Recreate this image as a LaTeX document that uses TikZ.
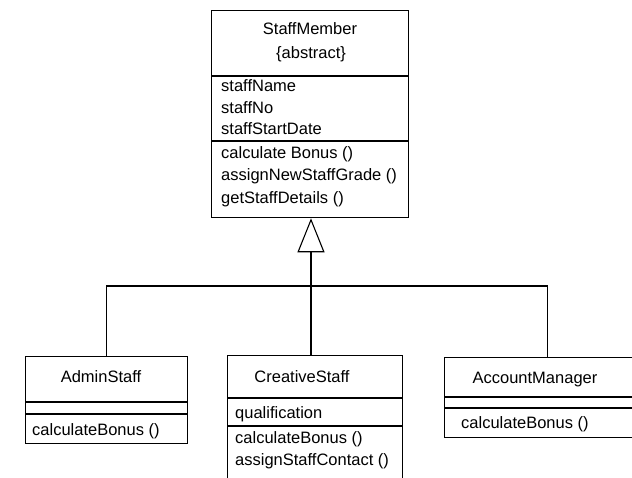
\documentclass[tikz,border=0pt]{standalone}
\usepackage{fontspec}
\setmainfont{Liberation Sans}
\usetikzlibrary{arrows.meta}
\begin{document}
\begin{tikzpicture}[x=1pt,y=-1pt,
  cls/.style={draw, line width=1.3pt, inner sep=0pt, anchor=north west},
  sep/.style={line width=1.3pt},
  link/.style={line width=1.1pt},
  txt/.style={anchor=base west, inner sep=0pt, font=\fontsize{16.5}{19}\selectfont},
  ttl/.style={anchor=base, inner sep=0pt, font=\fontsize{16.5}{19}\selectfont}]
\clip (0,0) rectangle (632,478);
\fill[white] (0,0) rectangle (632,478);

% superclass
\node[cls, minimum width=197pt, minimum height=207pt] (sm) at (211,10) {};
\draw[sep] (sm.west |- 0,76) -- (sm.east |- 0,76);
\draw[sep] (sm.west |- 0,141) -- (sm.east |- 0,141);
\node[ttl] (smname) at (310,34.5) {StaffMember};
\node[ttl] (smabs) at (311,58.5) {\{abstract\}};
\node[txt] (sma1) at (221,91.5) {staffName};
\node[txt] (sma2) at (221,113.5) {staffNo};
\node[txt] (sma3) at (221,134.5) {staffStartDate};
\node[txt] (smm1) at (221,158.5) {calculate Bonus ()};
\node[txt] (smm2) at (221,180.5) {assignNewStaffGrade ()};
\node[txt] (smm3) at (221,203.5) {getStaffDetails ()};

% subclasses
\node[cls, minimum width=162pt, minimum height=87pt] (admin) at (25,356) {};
\draw[sep] (admin.west |- 0,402) -- (admin.east |- 0,402);
\draw[sep] (admin.west |- 0,414) -- (admin.east |- 0,414);
\node[ttl] (adminname) at (101,382.5) {AdminStaff};
\node[txt] (adminm1) at (32,435.5) {calculateBonus ()};

\node[cls, minimum width=175pt, minimum height=140pt] (creative) at (227,355) {};
\draw[sep] (creative.west |- 0,398) -- (creative.east |- 0,398);
\draw[sep] (creative.west |- 0,426) -- (creative.east |- 0,426);
\node[ttl] (creativename) at (302,382.5) {CreativeStaff};
\node[txt] (creativea1) at (235,418.5) {qualification};
\node[txt] (creativem1) at (235,443.5) {calculateBonus ()};
\node[txt] (creativem2) at (235,465.5) {assignStaffContact ()};

\node[cls, minimum width=206pt, minimum height=80pt] (acct) at (444,357) {};
\draw[sep] (acct.west |- 0,397) -- (acct.east |- 0,397);
\draw[sep] (acct.west |- 0,408) -- (acct.east |- 0,408);
\node[ttl] (acctname) at (535,383.5) {AccountManager};
\node[txt] (acctm1) at (461,428.5) {calculateBonus ()};

% generalisation tree
\coordinate (hub) at (311,286);
\draw[link, -{Triangle[open, length=34pt, width=27pt, line width=1.1pt]}] (hub) -- (hub |- sm.south);
\draw[link] (admin.north) |- (hub) -| (acct.north);
\draw[link] (hub) -- (hub |- creative.north);
\end{tikzpicture}
\end{document}
